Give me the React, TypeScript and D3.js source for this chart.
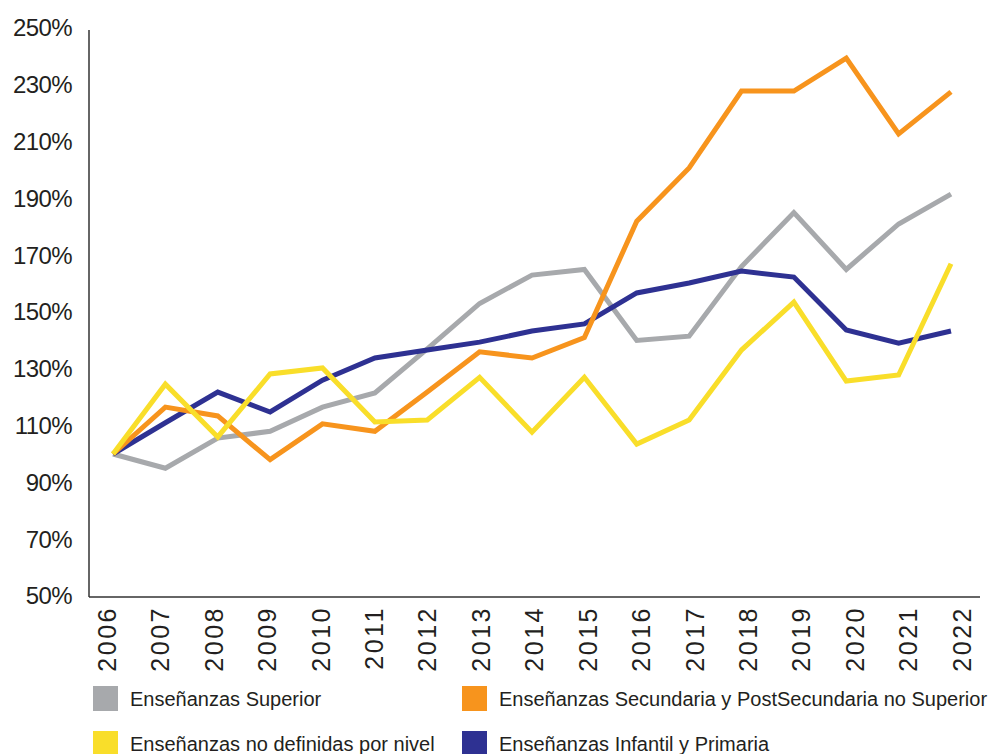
import * as d3 from 'd3';

const years = [2006, 2007, 2008, 2009, 2010, 2011, 2012, 2013, 2014, 2015, 2016, 2017, 2018, 2019, 2020, 2021, 2022];

const superior = [100, 95, 105.6, 108, 116.5, 121.5, 137, 153, 163, 165, 140, 141.5, 166, 185, 165, 181, 191.5];
const secundaria = [100, 116.5, 113.4, 98, 110.6, 108, 121.8, 136, 133.8, 141, 182, 200.7, 227.8, 227.8, 239.4, 212.7, 227.5];
const noDefinidas = [100, 124.6, 106, 128.2, 130.3, 111.3, 112, 127, 107.7, 127, 103.5, 112, 136.6, 153.5, 125.7, 127.8, 167];
const infantil = [100, 111, 121.8, 114.8, 126, 133.8, 136.6, 139.4, 143.3, 145.8, 156.7, 160.2, 164.4, 162.3, 143.7, 139, 143.3];

const yTicks = [50, 70, 90, 110, 130, 150, 170, 190, 210, 230, 250];

const series = [
  { name: 'Enseñanzas Superior', values: superior, color: '#A7A9AC' },
  { name: 'Enseñanzas Secundaria y PostSecundaria no Superior', values: secundaria, color: '#F7941D' },
  { name: 'Enseñanzas no definidas por nivel', values: noDefinidas, color: '#F9DE2A' },
  { name: 'Enseñanzas Infantil y Primaria', values: infantil, color: '#2E3192' },
];

// draw order: gray, blue, orange, yellow
const drawOrder = [0, 3, 1, 2];

const width = 997,
  height = 754,
  axisLeft = 89,
  axisRight = 980,
  axisTop = 30;

const font = '"Liberation Sans", Arial, sans-serif';
const textColor = '#231F20';

export default function App() {
  const y = d3.scaleLinear().domain([50, 250]).range([596, 28]);
  const x = d3.scalePoint<number>().domain(years).range([113, 951]);
  const xLabel = d3.scalePoint<number>().domain(years).range([107, 962]);

  const line = d3
    .line<number>()
    .x((_, i) => x(years[i]) as number)
    .y((d) => y(d));

  const legendRows = [0, 0, 1, 1];
  const legendCols = [0, 1, 0, 1];
  const colX = [93, 462];
  const rowY = [686, 731];

  return (
    <svg
      width={width}
      height={height}
      style={{ position: 'absolute', left: 0, top: 0, background: '#fff' }}
    >
      {/* axes */}
      <line x1={axisLeft} x2={axisLeft} y1={axisTop} y2={y(50) + 1} stroke="#333" strokeWidth={1.5} />
      <line x1={axisLeft} x2={axisRight} y1={y(50) + 1} y2={y(50) + 1} stroke="#333" strokeWidth={1.5} />

      {yTicks.map((t) => (
        <text
          key={t}
          x={72}
          y={y(t)}
          dy="0.35em"
          textAnchor="end"
          fontFamily={font}
          fontSize={24}
          letterSpacing={-0.6}
          fill={textColor}
        >
          {t}%
        </text>
      ))}

      {years.map((yr) => (
        <text
          key={yr}
          transform={`translate(${xLabel(yr)},606) rotate(-90)`}
          dy="0.35em"
          textAnchor="end"
          fontFamily={font}
          fontSize={25}
          letterSpacing={2.5}
          fill={textColor}
        >
          {yr}
        </text>
      ))}

      {drawOrder.map((i) => (
        <path
          key={series[i].name}
          d={line(series[i].values) as string}
          fill="none"
          stroke={series[i].color}
          strokeWidth={5}
          strokeLinejoin="miter"
        />
      ))}

      {series.map((s, i) => (
        <g key={s.name} transform={`translate(${colX[legendCols[i]]},${rowY[legendRows[i]]})`}>
          <rect width={25} height={25} fill={s.color} />
          <text
            x={37}
            y={13}
            dy="0.35em"
            fontFamily={font}
            fontSize={20}
            fill={textColor}
          >
            {s.name}
          </text>
        </g>
      ))}
    </svg>
  );
}
